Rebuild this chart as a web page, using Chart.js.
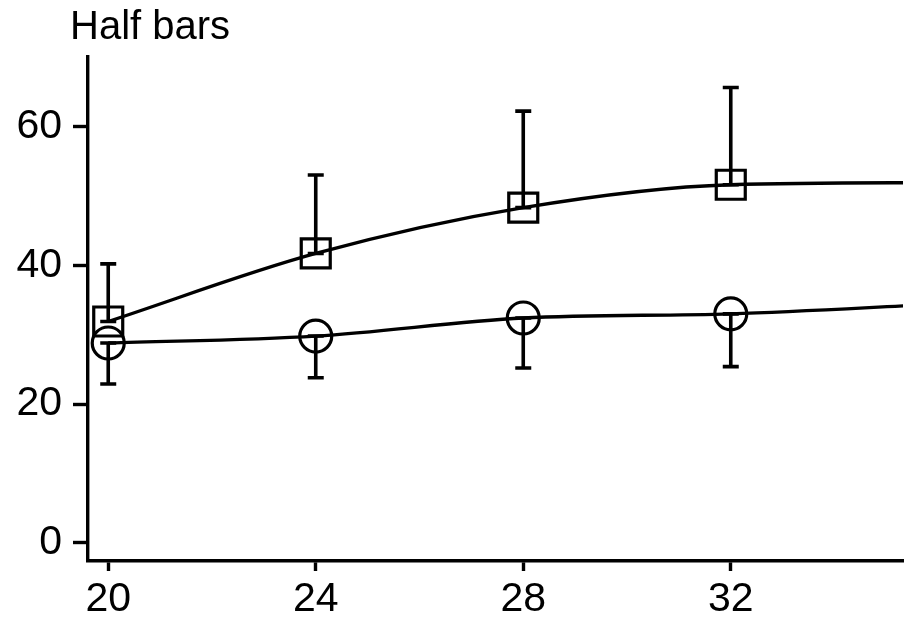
<!DOCTYPE html>
<html>
<head>
<meta charset="utf-8">
<script src="https://cdn.jsdelivr.net/npm/chart.js@4"></script>
<style>
  html, body { margin: 0; padding: 0; background: #fff; overflow: hidden; }
  #wrap { position: relative; width: 915px; height: 617px; }
</style>
</head>
<body>
<div id="wrap"><canvas id="halfbars"></canvas></div>
<script>
// values
const xValues = [20, 24, 28, 32, 36];
const squareMeans = [31.9, 41.7, 48.3, 51.6, 51.9];
const squareUpper = [40.2, 53.0, 62.2, 65.6, null];
const circleMeans = [28.8, 29.8, 32.4, 33.0, 34.4];
const circleLower = [22.9, 23.8, 25.2, 25.4, null];
const xTicks = [20, 24, 28, 32];
const yTicks = [0, 20, 40, 60];
const titleText = 'Half bars';

const fontFamily = '"Liberation Sans", Arial, sans-serif';

function points(means) {
    return xValues.map((x, i) => ({ x: x, y: means[i] }));
}

// half error bars: a bar from the mean to one end, capped at both ends
const halfBars = {
    id: 'halfBars',
    afterDatasetsDraw(chart) {
        const ctx = chart.ctx;
        const xs = chart.scales.x, ys = chart.scales.y;
        const sets = [[squareMeans, squareUpper], [circleMeans, circleLower]];
        ctx.save();
        ctx.beginPath();
        ctx.rect(chart.chartArea.left, chart.chartArea.top, chart.chartArea.width, chart.chartArea.height);
        ctx.clip();
        ctx.strokeStyle = '#000';
        ctx.lineWidth = 3.6;
        ctx.lineCap = 'butt';
        sets.forEach(([means, ends]) => {
            xValues.forEach((x, i) => {
                if (ends[i] == null) return;
                const px = xs.getPixelForValue(x);
                const y0 = ys.getPixelForValue(means[i]);
                const y1 = ys.getPixelForValue(ends[i]);
                ctx.beginPath();
                ctx.moveTo(px, y0);
                ctx.lineTo(px, y1);
                ctx.moveTo(px - 8, y0);
                ctx.lineTo(px + 8, y0);
                ctx.moveTo(px - 8, y1);
                ctx.lineTo(px + 8, y1);
                ctx.stroke();
            });
        });
        ctx.restore();
    }
};

const titleDraw = {
    id: 'titleDraw',
    afterDraw(chart) {
        const ctx = chart.ctx;
        ctx.save();
        ctx.font = '40px ' + fontFamily;
        ctx.fillStyle = '#000';
        ctx.textBaseline = 'alphabetic';
        ctx.textAlign = 'left';
        ctx.fillText(titleText, 70, 39);
        ctx.restore();
    }
};

const ctx = document.getElementById('halfbars').getContext('2d');
const chart = new Chart(ctx, {
    type: 'line',
    data: {
        datasets: [{
            label: 'squares',
            data: points(squareMeans),
            borderColor: '#000',
            backgroundColor: 'rgba(0,0,0,0)',
            borderWidth: 3.4,
            pointStyle: 'rect',
            pointRadius: 20.5,
            pointBorderWidth: 3.2,
            pointBorderColor: '#000',
            pointBackgroundColor: 'rgba(0,0,0,0)',
            cubicInterpolationMode: 'monotone'
        }, {
            label: 'circles',
            data: points(circleMeans),
            borderColor: '#000',
            backgroundColor: 'rgba(0,0,0,0)',
            borderWidth: 3.4,
            pointStyle: 'circle',
            pointRadius: 16,
            pointBorderWidth: 3.2,
            pointBorderColor: '#000',
            pointBackgroundColor: 'rgba(0,0,0,0)',
            cubicInterpolationMode: 'monotone'
        }]
    },
    options: {
        responsive: true,
        maintainAspectRatio: false,
        animation: false,
        layout: { autoPadding: false, padding: { top: 57, right: 12, left: 0, bottom: 0 } },
        plugins: {
            legend: { display: false },
            title: { display: false },
            tooltip: { enabled: false }
        },
        scales: {
            x: {
                type: 'linear',
                min: 19.61,
                max: 35.32,
                afterBuildTicks: scale => { scale.ticks = xTicks.map(v => ({ value: v })); },
                afterFit: scale => {
                    scale.height = 56;
                    scale.paddingLeft = 0;
                    scale.paddingRight = 0;
                },
                border: { display: true, color: '#000', width: 3.4 },
                grid: { drawOnChartArea: false, drawTicks: true, tickLength: 10, tickWidth: 3.4, tickColor: '#000' },
                ticks: { color: '#000', padding: 4, maxRotation: 0, font: { family: fontFamily, size: 41 } }
            },
            y: {
                min: -2.6,
                max: 70,
                afterBuildTicks: scale => { scale.ticks = yTicks.map(v => ({ value: v })); },
                afterFit: scale => {
                    scale.width = 88;
                    scale.paddingTop = 0;
                    scale.paddingBottom = 0;
                },
                border: { display: true, color: '#000', width: 3.4 },
                grid: { drawOnChartArea: false, drawTicks: true, tickLength: 15, tickWidth: 3.4, tickColor: '#000' },
                ticks: { color: '#000', padding: 11, font: { family: fontFamily, size: 41 } }
            }
        }
    },
    plugins: [halfBars, titleDraw]
});
</script>
</body>
</html>
